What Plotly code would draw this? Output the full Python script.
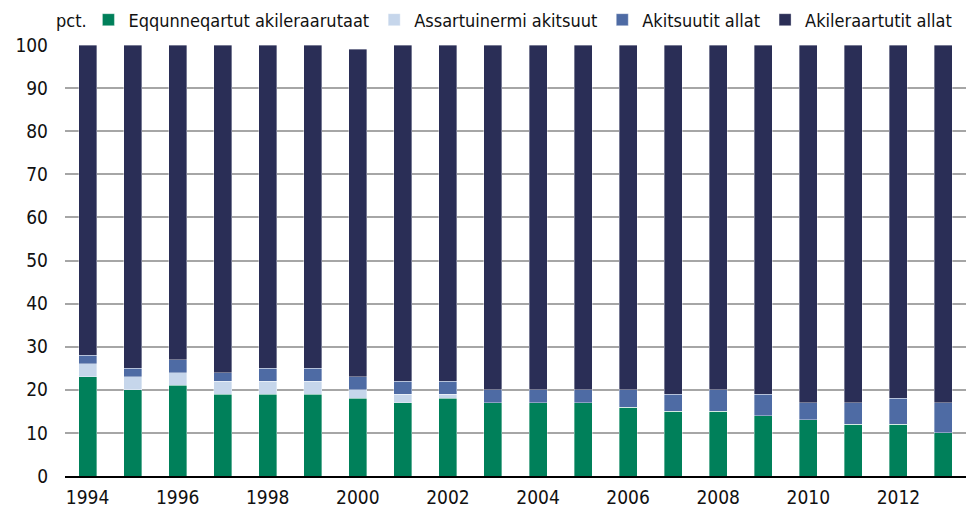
import plotly.graph_objects as go

years = [str(y) for y in range(1994, 2014)]
eqqunneqartut = [23, 20, 21, 19, 19, 19, 18, 17, 18, 17, 17, 17, 16, 15, 15, 14, 13, 12, 12, 10]
assartuinermi = [3, 3, 3, 3, 3, 3, 2, 2, 1, 0, 0, 0, 0, 0, 0, 0, 0, 0, 0, 0]
akitsuutit = [2, 2, 3, 2, 3, 3, 3, 3, 3, 3, 3, 3, 4, 4, 5, 5, 4, 5, 6, 7]
totals = [100, 100, 100, 100, 100, 100, 99, 100, 100, 100, 100, 100, 100, 100, 100, 100, 100, 100, 100, 100]
akileraartutit = [t - a - b - c for t, a, b, c in zip(totals, eqqunneqartut, assartuinermi, akitsuutit)]

names = ["Eqqunneqartut akileraarutaat", "Assartuinermi akitsuut", "Akitsuutit allat", "Akileraartutit allat"]
series = [eqqunneqartut, assartuinermi, akitsuutit, akileraartutit]
colors = ["#00805A", "#C6D6EB", "#4E6BA4", "#2A2E56"]

tick_years = [str(y) for y in range(1994, 2014, 2)]
y_ticks = list(range(0, 101, 10))

FONT = "Liberation Sans Narrow, DejaVu Sans Condensed, Arial Narrow, sans-serif"

fig = go.Figure()
for name, vals, col in zip(names, series, colors):
    fig.add_trace(go.Bar(
        x=years, y=vals, name=name,
        marker=dict(color=col, line=dict(color="rgba(255,255,255,0.6)", width=0.6)),
        width=0.4,
    ))

fig.update_layout(
    barmode="stack",
    width=976, height=510,
    margin=dict(l=57, r=18, t=37, b=42, autoexpand=False),
    paper_bgcolor="white", plot_bgcolor="white",
    font=dict(family=FONT, size=18, color="#111111"),
    showlegend=True,
    legend=dict(orientation="h", x=0.026, xanchor="left", y=1.058, yanchor="middle",
                font=dict(size=18), traceorder="normal", itemclick=False,
                bgcolor="rgba(0,0,0,0)"),
    xaxis=dict(type="category", tickmode="array", tickvals=tick_years, ticktext=tick_years,
               showline=True, linecolor="black", linewidth=2, ticks="", showgrid=False,
               range=[-0.5, 19.5], tickfont=dict(size=19), ticklabelstandoff=3),
    yaxis=dict(range=[0, 100], tickmode="array", tickvals=y_ticks, showgrid=True,
               gridcolor="#A6A6A6", gridwidth=1.5, zeroline=False, ticks="",
               ticklabelstandoff=16, tickfont=dict(size=19)),
    annotations=[dict(text="pct.", xref="paper", yref="paper", x=-0.012, y=1.058,
                      xanchor="left", yanchor="middle", showarrow=False, font=dict(size=18))],
)

fig.write_html("out.html")
